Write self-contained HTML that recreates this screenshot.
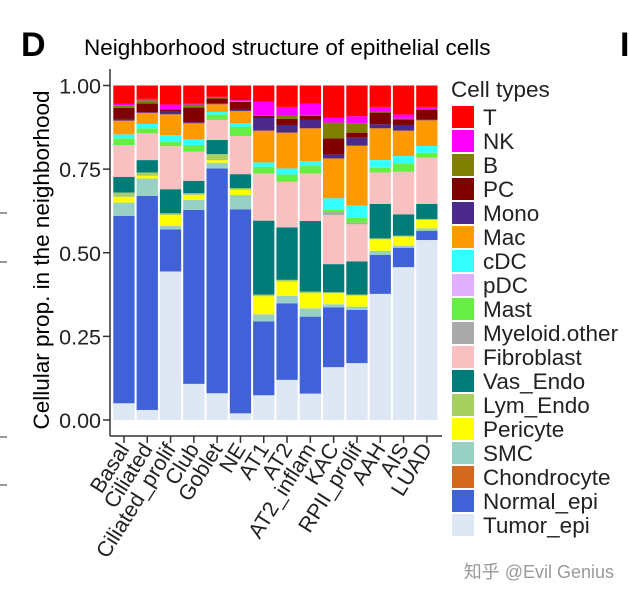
<!DOCTYPE html>
<html><head><meta charset="utf-8"><style>
body{margin:0;background:#fff;}
svg{display:block;font-family:"Liberation Sans","Noto Sans CJK SC",sans-serif;}
</style></head><body>
<svg id="chart" width="629" height="598" viewBox="0 0 629 598">
<text x="21" y="56" font-size="34" font-weight="bold">D</text>
<text x="84" y="55" font-size="22.5">Neighborhood structure of epithelial cells</text>
<text x="620" y="56" font-size="34" font-weight="bold">I</text>
<text transform="translate(49,260) rotate(-90)" text-anchor="middle" font-size="22.5">Cellular prop. in the neighborhood</text>
<line x1="0" y1="213" x2="7" y2="213" stroke="#333"/>
<line x1="0" y1="262" x2="7" y2="262" stroke="#333"/>
<line x1="0" y1="437" x2="7" y2="437" stroke="#333"/>
<line x1="0" y1="485" x2="7" y2="485" stroke="#333"/>
<g id="bars"></g>
<g id="axes"></g>
<g id="legend"></g>
<text x="614" y="578" text-anchor="end" font-size="18" fill="#999">知乎 @Evil Genius</text>
</svg>
<script>
const categories=["Basal","Ciliated","Ciliated_prolif","Club","Goblet","NE","AT1","AT2","AT2_inflam","KAC","RPII_prolif","AAH","AIS","LUAD"];
const seriesNames=["Tumor_epi","Normal_epi","Chondrocyte","SMC","Pericyte","Lym_Endo","Vas_Endo","Fibroblast","Myeloid.other","Mast","pDC","cDC","Mac","Mono","PC","B","NK","T"];
const colors=["#dde8f4","#4161d8","#d2691e","#98d0c4","#ffff00","#a8d060","#007c78","#f8c0c0","#a9a9a9","#66ee44","#e0b0ff","#33ffff","#ff9900","#4b2a8c","#800000","#808000","#ff00ff","#ff0000"];
const Tumor_epi=[.05,.03,.444,.108,.08,.02,.074,.12,.079,.158,.17,.377,.457,.538];
const Normal_epi=[.56,.64,.126,.52,.672,.61,.221,.229,.23,.179,.159,.117,.058,.027];
const Chondrocyte=[0,0,0,0,0,0,0,0,0,0,0,0,0,0];
const SMC=[.04,.052,.01,.03,.017,.043,.021,.022,.025,.009,.01,.012,.006,.008];
const Pericyte=[.017,.008,.033,.015,.008,.015,.054,.043,.045,.033,.033,.034,.027,.025];
const Lym_Endo=[.013,.01,.005,.005,.018,.005,.005,.005,.005,.003,.003,.003,.003,.003];
const Vas_Endo=[.047,.037,.072,.037,.042,.042,.221,.157,.211,.084,.099,.103,.064,.045];
const Fibroblast=[.095,.08,.129,.087,.06,.114,.141,.136,.142,.147,.111,.094,.127,.138];
const Myeloid_other=[0,0,0,0,0,0,0,0,0,.009,.005,0,0,0];
const Mast=[.02,.015,.013,.02,.016,.028,.02,.022,.022,.008,.015,.014,.025,.015];
const pDC=[0,0,0,0,0,0,0,0,0,0,0,0,0,0];
const cDC=[.012,.013,.02,.017,.008,.01,.013,.018,.015,.033,.036,.023,.022,.02];
const Mac=[.041,.033,.062,.048,.023,.037,.095,.107,.098,.119,.179,.095,.076,.077];
const Mono=[.005,.002,.008,.003,.003,.003,.038,.023,.025,.012,.024,.012,.017,.002];
const PC=[.033,.026,.006,.044,.014,.024,.006,.018,.012,.048,.015,.035,.017,.03];
const B=[.008,.01,0,.009,.002,.002,.001,.009,.003,.047,.028,.002,.002,.002];
const NK=[.004,.004,.015,.003,.003,.003,.041,.027,.034,.014,.021,.015,.012,.006];
const T=[.055,.04,.057,.054,.034,.044,.049,.064,.054,.097,.092,.064,.087,.064];
const yTicks=[0,0.25,0.5,0.75,1];
const yTickLabels=["0.00","0.25","0.50","0.75","1.00"];
const seriesValues=[Tumor_epi,Normal_epi,Chondrocyte,SMC,Pericyte,Lym_Endo,Vas_Endo,Fibroblast,Myeloid_other,Mast,pDC,cDC,Mac,Mono,PC,B,NK,T];

const NS="http://www.w3.org/2000/svg";
const X0=113.3,STEP=23.3,BW=21.3,Y0=420,YH=334.5;
const y=v=>Y0-v*YH;
const xc=i=>X0+i*STEP+BW/2;
function mk(tag,attrs,parent){const e=document.createElementNS(NS,tag);for(const k in attrs)e.setAttribute(k,attrs[k]);parent.appendChild(e);return e;}
const bars=document.getElementById('bars');
categories.forEach((c,i)=>{
  let cum=0;
  seriesValues.forEach((arr,s)=>{
    const v=arr[i];if(!v)return;
    const r=mk('rect',{x:X0+i*STEP,y:y(cum+v),width:BW,height:v*YH,fill:colors[s]},bars);
    
    
    cum+=v;
  });
});
const ax=document.getElementById('axes');
const yl=mk('line',{x1:110,y1:69,x2:110,y2:436,stroke:'#333','stroke-width':1.5},ax);


const xl=mk('line',{x1:110,y1:436,x2:442,y2:436,stroke:'#333','stroke-width':1.5},ax);


yTicks.forEach((t,k)=>{
  const l=mk('line',{x1:103,y1:y(t),x2:110,y2:y(t),stroke:'#333','stroke-width':1.5},ax);
  
  
  const tx=mk('text',{x:101,y:y(t)+8,'text-anchor':'end','font-size':21.5,fill:'#222'},ax);
  tx.textContent=yTickLabels[k];
  
  
});
categories.forEach((c,i)=>{
  const l=mk('line',{x1:xc(i),y1:436,x2:xc(i),y2:443,stroke:'#333','stroke-width':1.5},ax);
  
  
  const tx=mk('text',{transform:`translate(${xc(i)+6},${449}) rotate(-58)`,'text-anchor':'end','font-size':21.5,fill:'#222'},ax);
  tx.textContent=c;
  
  
});
const lg=document.getElementById('legend');
const lt=mk('text',{x:451,y:97,'font-size':22.5,fill:'#222'},lg);
lt.textContent='Cell types';


for(let k=0;k<seriesNames.length;k++){
  const s=seriesNames.length-1-k;
  const g=mk('g',{},lg);
  
  
  mk('rect',{x:452,y:106+k*24,width:22,height:22,fill:colors[s]},g);
  const t=mk('text',{x:483,y:125+k*24,'font-size':22.5,fill:'#222'},g);
  t.textContent=seriesNames[s];
}
</script>
</body></html>
